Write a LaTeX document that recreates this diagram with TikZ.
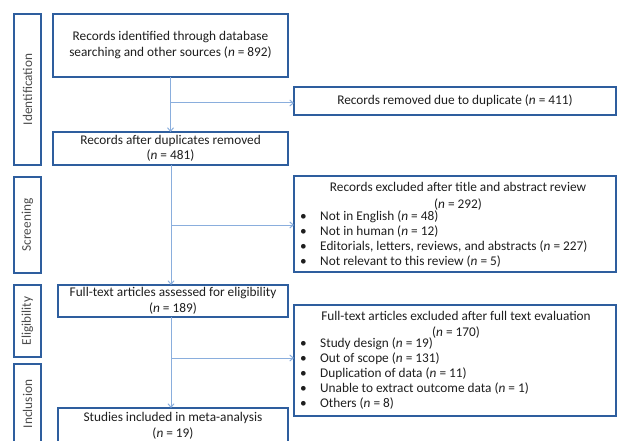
\documentclass[tikz,border=0pt]{standalone}
\usepackage{fontspec}
\setmainfont{Carlito}
\usetikzlibrary{arrows.meta}
\definecolor{boxblue}{HTML}{2E5E9E}
\definecolor{arrblue}{HTML}{8AAEDD}
\definecolor{txt}{HTML}{1E1E1E}
\tikzset{
  box/.style={draw=boxblue, line width=2pt, inner sep=0pt, outer sep=0pt, align=center, text=txt, font=\fontsize{13.3}{15.5}\selectfont},
  side/.style={draw=boxblue, line width=2pt, inner sep=0pt, outer sep=0pt, minimum width=27pt},
  sidelabel/.style={rotate=90, text=txt!80, font=\fontsize{13.3}{15.5}\selectfont},
  txtnode/.style={text=txt, font=\fontsize{13.3}{15.5}\selectfont, inner sep=0pt},
  flow/.style={draw=arrblue, line width=1pt, -{Straight Barb[length=3.5pt,width=6pt]}},
}
\newcommand{\nn}{\textit{n}}
\newcommand{\bul}{\makebox[20pt][l]{\textbullet}}
\begin{document}
\begin{tikzpicture}[x=1pt,y=-1pt]
\useasboundingbox (0,0) rectangle (618,441);
\clip (0,0) rectangle (618,441);
% side boxes
\node[side, minimum height=151pt] (sid) at (27.5,89.5) {};
\node[sidelabel] (lid) at (sid.center) {Identification};
\node[side, minimum height=96pt] (ssc) at (27.5,225) {};
\node[sidelabel] (lsc) at (ssc.center) {Screening};
\node[side, minimum height=72pt] (sel) at (27.5,321) {};
\node[sidelabel] (lel) at (sel.center) {Eligibility};
\node[side, minimum height=86pt] (sin) at (27.5,407) {};
\node[sidelabel] (lin) at (27.5,404) {Inclusion};
% main boxes
\node[box, minimum width=235pt, minimum height=63pt, font=\fontsize{13.3}{16}\selectfont] (id) at (170.5,45.5)
  {Records identified through database\\searching and other sources (\nn{} = 892)};
\node[box, minimum width=235pt, minimum height=33pt] (after) at (170.5,148.5)
  {Records after duplicates removed\\(\nn{} = 481)};
\node[box, minimum width=322pt, minimum height=28pt] (rem) at (455,101)
  {Records removed due to duplicate (\nn{} = 411)};
\node[box, minimum width=322pt, minimum height=96pt] (ex1) at (455,224) {};
\node[txtnode, align=center, font=\fontsize{13.3}{16.5}\selectfont] (ex1t) at (458,196.5) {Records excluded after title and abstract review\\(\nn{} = 292)};
\node[txtnode, align=left, anchor=north west, font=\fontsize{13.3}{15}\selectfont] (ex1l) at (300,210.5) {%
  \bul Not in English (\nn{} = 48)\\
  \bul Not in human (\nn{} = 12)\\
  \bul Editorials, letters, reviews, and abstracts (\nn{} = 227)\\
  \bul Not relevant to this review (\nn{} = 5)};
\node[box, minimum width=230pt, minimum height=32pt] (full) at (173,301)
  {Full-text articles assessed for eligibility\\(\nn{} = 189)};
\node[box, minimum width=322pt, minimum height=111pt] (ex2) at (455,360.5) {};
\node[txtnode, align=center] (ex2t) at (456,325) {Full-text articles excluded after full text evaluation\\(\nn{} = 170)};
\node[txtnode, align=left, anchor=north west, font=\fontsize{13.3}{14.8}\selectfont] (ex2l) at (300,338) {%
  \bul Study design (\nn{} = 19)\\
  \bul Out of scope (\nn{} = 131)\\
  \bul Duplication of data (\nn{} = 11)\\
  \bul Unable to extract outcome data (\nn{} = 1)\\
  \bul Others (\nn{} = 8)};
\node[box, minimum width=230pt, minimum height=42pt] (stu) at (173,429) {};
\node[txtnode, align=center] (stut) at (173,426) {Studies included in meta-analysis\\(\nn{} = 19)};
% connectors
\coordinate (b1) at (171,103);
\coordinate (b2) at (171,225);
\coordinate (b3) at (171,358);
\draw[flow] (id.south) -- (after.north);
\draw[flow] (b1) -- (b1 -| rem.west);
\draw[flow] (after.south -| b2) -- (b2 |- full.north);
\draw[flow] (b2) -- (b2 -| ex1.west);
\draw[flow] (full.south -| b3) -- (b3 |- stu.north);
\draw[flow] (b3) -- (b3 -| ex2.west);
\end{tikzpicture}
\end{document}
